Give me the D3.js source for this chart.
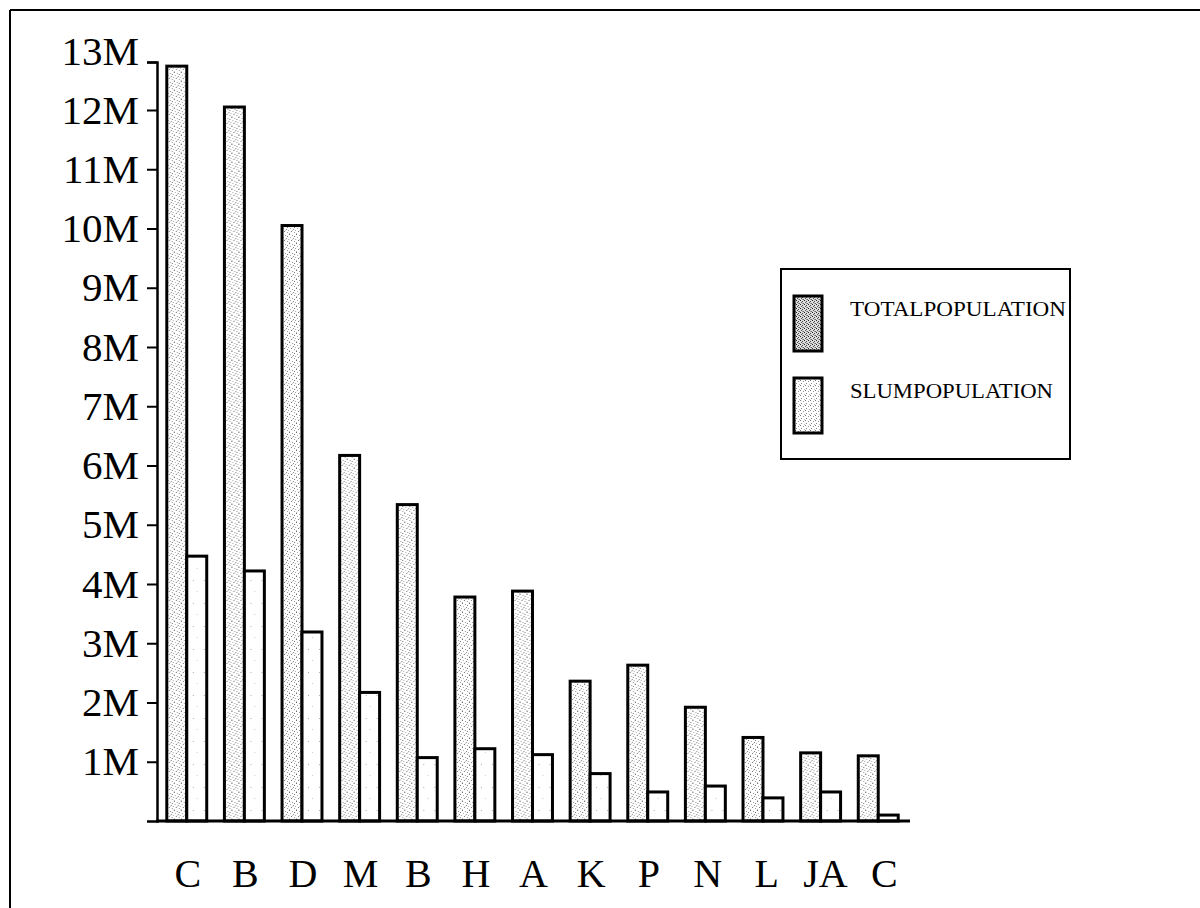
<!DOCTYPE html>
<html>
<head>
<meta charset="utf-8">
<script src="https://cdn.jsdelivr.net/npm/d3@7"></script>
<style>
  html, body { margin: 0; padding: 0; background: #fff; }
  svg { display: block; }
  text { font-family: "Liberation Serif", "DejaVu Serif", serif; fill: #000; }
</style>
</head>
<body>
<svg id="chart" width="1200" height="908"></svg>
<script>
// ---- data (millions) ----
const categories = ["C", "B", "D", "M", "B", "H", "A", "K", "P", "N", "L", "JA", "C"];
const totalPopulation = [12.74, 12.05, 10.05, 6.17, 5.34, 3.78, 3.88, 2.36, 2.63, 1.92, 1.41, 1.15, 1.10];
const slumPopulation  = [4.47, 4.22, 3.19, 2.17, 1.07, 1.22, 1.12, 0.80, 0.49, 0.59, 0.39, 0.49, 0.10];
const seriesNames = ["TOTALPOPULATION", "SLUMPOPULATION"];
const yTickValues = [1, 2, 3, 4, 5, 6, 7, 8, 9, 10, 11, 12];
const yTickLabels = ["1M", "2M", "3M", "4M", "5M", "6M", "7M", "8M", "9M", "10M", "11M", "12M"];
const yTopValue = 12.81;
const yTopLabel = "13M";

const svg = d3.select("#chart");
const defs = svg.append("defs");

// stipple patterns (fixed dot layouts)
function stipple(id, w, h, dots, bg) {
  const p = defs.append("pattern").attr("id", id).attr("patternUnits", "userSpaceOnUse")
    .attr("width", w).attr("height", h);
  p.append("rect").attr("width", w).attr("height", h).attr("fill", bg);
  dots.forEach(([x, y, c]) => p.append("rect").attr("x", x).attr("y", y).attr("width", 1).attr("height", 1).attr("fill", c));
}
stipple("totalPat", 7, 9, [
  [0,0,"#666"],[3,1,"#999"],[5,2,"#777"],[1,3,"#aaa"],[4,4,"#888"],
  [6,5,"#aaa"],[2,6,"#777"],[5,7,"#999"],[0,8,"#bbb"],[3,5,"#ccc"]], "#fff");
stipple("slumPat", 11, 23, [[4,5,"#aaa"],[8,16,"#ccc"]], "#fff");
stipple("legTotalPat", 4, 4, [[0,0,"#222"],[2,1,"#444"],[1,2,"#555"],[3,3,"#666"],[2,3,"#999"]], "#ddd");
stipple("legSlumPat", 5, 5, [[0,0,"#777"],[3,1,"#999"],[1,3,"#888"],[4,4,"#bbb"]], "#fff");

// frame lines
svg.append("line").attr("x1", 10).attr("y1", 10).attr("x2", 1200).attr("y2", 10)
  .attr("stroke", "#000").attr("stroke-width", 2);
svg.append("line").attr("x1", 10).attr("y1", 10).attr("x2", 10).attr("y2", 908)
  .attr("stroke", "#000").attr("stroke-width", 2);

// scales
const y = d3.scaleLinear().domain([0, yTopValue]).range([821, 62]);
const x0 = d3.scaleBand().domain(d3.range(categories.length)).range([157, 908])
  .paddingInner(0.307).paddingOuter(0.17);
const x1 = d3.scaleBand().domain(seriesNames).range([0, x0.bandwidth()]).padding(0);

// bars
const groups = svg.append("g").selectAll("g").data(categories.map((c, i) => i))
  .join("g").attr("transform", i => `translate(${x0(i)},0)`);
groups.append("rect")
  .attr("x", x1("TOTALPOPULATION")).attr("width", x1.bandwidth())
  .attr("y", i => y(totalPopulation[i])).attr("height", i => y(0) - y(totalPopulation[i]))
  .attr("fill", "url(#totalPat)").attr("stroke", "#000").attr("stroke-width", 3);
groups.append("rect")
  .attr("x", x1("SLUMPOPULATION")).attr("width", x1.bandwidth())
  .attr("y", i => y(slumPopulation[i])).attr("height", i => y(0) - y(slumPopulation[i]))
  .attr("fill", "url(#slumPat)").attr("stroke", "#000").attr("stroke-width", 3);

// y axis
const yAxis = d3.axisLeft(y).tickValues(yTickValues.concat([yTopValue])).tickSizeOuter(0).tickSize(10)
  .tickPadding(8)
  .tickFormat((d, i) => i < yTickLabels.length ? yTickLabels[i] : yTopLabel);
const gy = svg.append("g").attr("transform", "translate(157,0)").call(yAxis);
gy.select(".domain").attr("stroke", "#000").attr("stroke-width", 2.5);
gy.selectAll(".tick line").attr("stroke", "#000").attr("stroke-width", 2);
gy.selectAll(".tick text").attr("font-size", 41).attr("font-family", "Liberation Serif")
  .attr("dy", "0.32em").attr("fill", "#000");
gy.selectAll(".tick").filter(d => d === yTopValue).select("text").attr("dy", "0.05em");

// x axis (baseline + labels)
const xAxis = d3.axisBottom(x0).tickSize(0).tickPadding(38).tickSizeOuter(0)
  .tickFormat(i => categories[i]);
const gx = svg.append("g").attr("transform", "translate(0,821)").call(xAxis);
gx.select(".domain").attr("d", "M156,0H910").attr("stroke", "#000").attr("stroke-width", 3);
gx.selectAll(".tick text").attr("font-size", 40).attr("font-family", "Liberation Serif").attr("fill", "#000")
  .attr("dy", "0.71em")
  .attr("dx", (d, i) => i >= 8 ? (i - 7) * 1.2 : 1);

// legend
const leg = svg.append("g");
leg.append("rect").attr("x", 781).attr("y", 269).attr("width", 289).attr("height", 190)
  .attr("fill", "#fff").attr("stroke", "#000").attr("stroke-width", 2);
const legPats = ["url(#legTotalPat)", "url(#legSlumPat)"];
const legY = [296, 378];
seriesNames.forEach((name, i) => {
  leg.append("rect").attr("x", 794).attr("y", legY[i]).attr("width", 28).attr("height", 55)
    .attr("fill", legPats[i]).attr("stroke", "#000").attr("stroke-width", 3);
  leg.append("text").attr("x", 850).attr("y", legY[i] + 20).attr("font-size", 20)
    .attr("textLength", name === "TOTALPOPULATION" ? 216 : 203).attr("lengthAdjust", "spacingAndGlyphs")
    .text(name);
});
</script>
</body>
</html>
